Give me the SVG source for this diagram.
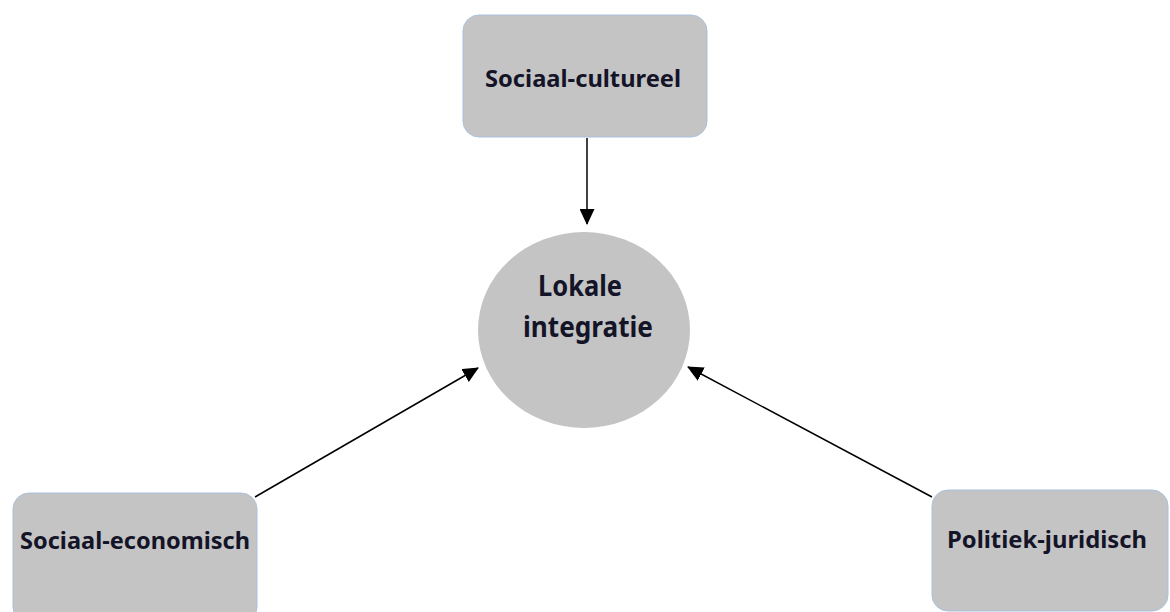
<svg xmlns="http://www.w3.org/2000/svg" width="1170" height="612" viewBox="0 0 1170 612">
<style>
.box{fill:#c4c4c4;stroke:#a9c0dc;stroke-width:1}
.lbl{font-family:"Noto Sans","Liberation Sans",sans-serif;font-weight:bold;font-size:23px;fill:#141428}
.big{font-size:28px}
.con{stroke:#000;stroke-width:1.5;fill:none;marker-end:url(#ah)}
</style>
<defs>
<marker id="ah" markerWidth="16" markerHeight="15" refX="15" refY="7.5" orient="auto" markerUnits="userSpaceOnUse" viewBox="0 0 16 15">
<path d="M0,0 L16,7.5 L0,15 Z" fill="#000"/>
</marker>
</defs>
<rect width="1170" height="612" fill="#fff"/>
<g id="connectors">
<line class="con" x1="587" y1="138" x2="587" y2="224"/>
<line class="con" x1="255" y1="497" x2="478" y2="368"/>
<line class="con" x1="932" y1="497" x2="688" y2="367"/>
</g>
<g id="sociaal-cultureel">
<rect class="box" x="463" y="15" width="244" height="122" rx="16"/>
<text class="lbl" x="583" y="87" text-anchor="middle" textLength="196" lengthAdjust="spacingAndGlyphs">Sociaal-cultureel</text>
</g>
<g id="lokale-integratie">
<ellipse cx="584" cy="330" rx="106" ry="98" fill="#c4c4c4"/>
<text class="lbl big" x="580" y="296" text-anchor="middle" textLength="84" lengthAdjust="spacingAndGlyphs">Lokale</text>
<text class="lbl big" x="588" y="337" text-anchor="middle" textLength="130" lengthAdjust="spacingAndGlyphs">integratie</text>
</g>
<g id="sociaal-economisch">
<rect class="box" x="13" y="493" width="244" height="130" rx="16"/>
<text class="lbl" x="135" y="549" text-anchor="middle" textLength="230" lengthAdjust="spacingAndGlyphs">Sociaal-economisch</text>
</g>
<g id="politiek-juridisch">
<rect class="box" x="932" y="490" width="236" height="121" rx="16"/>
<text class="lbl" x="1047" y="548" text-anchor="middle" textLength="200" lengthAdjust="spacingAndGlyphs">Politiek-juridisch</text>
</g>
</svg>
